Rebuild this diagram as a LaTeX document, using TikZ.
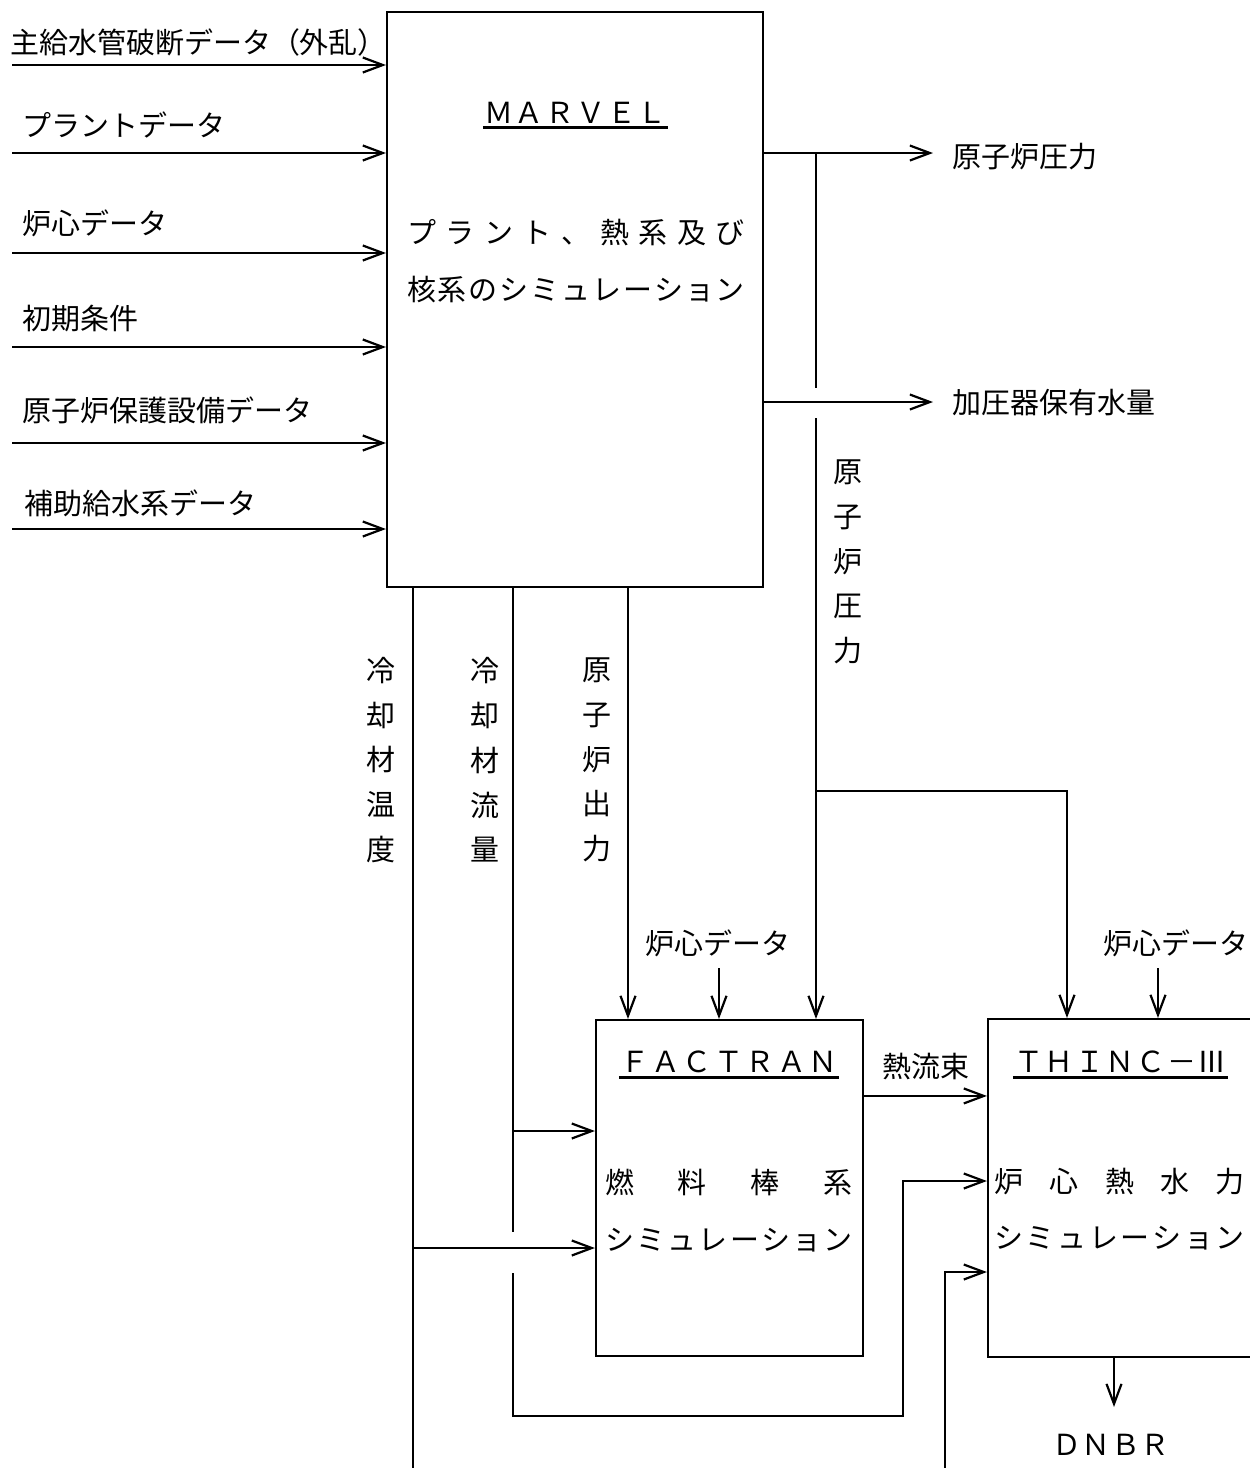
\documentclass[tikz,border=0pt]{standalone}
\usepackage{fontspec}
\setmainfont{Noto Sans CJK JP}
\usetikzlibrary{arrows.meta,positioning,calc}

\newcommand{\jpfont}{\fontsize{16.5pt}{25.5pt}\selectfont}
% spread the characters of #2 evenly over a box of width #1
\newcommand{\spaced}[2]{\makebox[#1][s]{\spacedfirst#2\relax}}
\def\spacedfirst#1{#1\spacednext}
\def\spacednext#1{\ifx\relax#1\else\hfill#1\expandafter\spacednext\fi}

\tikzset{
  box/.style={draw, inner sep=0pt},
  lbl/.style={inner sep=0pt, font=\jpfont},
  flow/.style={-{Straight Barb[length=0.4cm, width=0.3cm]}},
  uline/.style={line width=1.7pt},
}

\begin{document}
\begin{tikzpicture}[x=0.02cm, y=-0.02cm, line width=1.25pt]
\useasboundingbox (0,0) rectangle (1250,1468);

% blocks
\node[box, minimum width=7.52cm, minimum height=11.5cm] (marvel) at (575,299.5) {};
\node[box, minimum width=5.34cm, minimum height=6.72cm] (factran) at (729.5,1188) {};
\node[box, minimum width=5.3cm, minimum height=6.76cm] (thinc) at (1120.5,1188) {};

% MARVEL
\node[lbl] (marveltitle) at (575.5,113) {\spaced{3.66cm}{ＭＡＲＶＥＬ}};
\draw[uline] ($(marveltitle.south west)+(0,3)$) -- ($(marveltitle.south east)+(0,3)$);
\node[lbl] (marvelA) at (576,232) {\spaced{6.76cm}{プラント、熱系及び}};
\node[lbl] (marvelB) at (576,290) {\spaced{6.76cm}{核系のシミュレーション}};

% FACTRAN
\node[lbl] (factrantitle) at (729,1062) {\spaced{4.36cm}{ＦＡＣＴＲＡＮ}};
\draw[uline] ($(factrantitle.south west)+(0,3)$) -- ($(factrantitle.south east)+(0,3)$);
\node[lbl] (factranA) at (729,1182) {\spaced{4.96cm}{燃料棒系}};
\node[lbl] (factranB) at (729,1240) {\spaced{4.96cm}{シミュレーション}};

% THINC
\node[lbl] (thinctitle) at (1120.5,1062) {\spaced{4.26cm}{ＴＨＩＮＣ－Ⅲ}};
\draw[uline] ($(thinctitle.south west)+(0,3)$) -- ($(thinctitle.south east)+(0,3)$);
\node[lbl] (thincA) at (1119.5,1182) {\spaced{5.02cm}{炉心熱水力}};
\node[lbl] (thincB) at (1119.5,1238) {\spaced{5.02cm}{シミュレーション}};

% inputs to MARVEL
\foreach \i/\ly/\ay/\lx/\txt in {1/42/65/9/主給水管破断データ（外乱）, 2/125/153/21/プラントデータ,
    3/223/253/21/炉心データ, 4/319/347/21/初期条件, 5/410/443/21/原子炉保護設備データ,
    6/503/529/23/補助給水系データ}{
  \node[lbl, anchor=west] (in\i) at (\lx,\ly) {\txt};
  \coordinate (src\i) at (12,\ay);
  \draw[flow] (src\i) -- (src\i -| marvel.west);
}

% outputs of MARVEL
\node[lbl, anchor=west] (press) at (951,157) {原子炉圧力};
\node[lbl, anchor=west] (level) at (951,403) {加圧器保有水量};
\coordinate (pressend) at (933,153);
\coordinate (levelend) at (933,402);
\draw[flow] (pressend -| marvel.east) -- (pressend);
\draw[flow] (levelend -| marvel.east) -- (levelend);

% reactor pressure to FACTRAN and THINC
\coordinate (ptop) at (816,153);
\coordinate (pgap) at (816,388);
\coordinate (pmid) at (816,418);
\coordinate (pbranch) at (816,791);
\coordinate (pturn) at (1067,791);
\draw (ptop) -- (pgap);
\draw[flow] (pmid) -- (pmid |- factran.north);
\draw[flow] (pbranch) -- (pturn) -- (pturn |- thinc.north);
\node[lbl, align=center] (presslbl) at (848,562) {原\\子\\炉\\圧\\力};

% coolant temperature
\coordinate (temp) at (413,1248);
\coordinate (tempend) at (413,1468);
\draw (temp |- marvel.south) -- (tempend);
\draw[flow] (temp) -- (temp -| factran.west);
\node[lbl, align=center] (templbl) at (381,760) {冷\\却\\材\\温\\度};

% coolant flow
\coordinate (flowA) at (513,1131);
\coordinate (flowgap) at (513,1232);
\coordinate (flowB) at (513,1273);
\coordinate (flowlow) at (513,1416);
\coordinate (flowturn) at (903,1416);
\coordinate (flowup) at (903,1181);
\draw (flowA |- marvel.south) -- (flowgap);
\draw[flow] (flowA) -- (flowA -| factran.west);
\draw[flow] (flowB) -- (flowlow) -- (flowturn) -- (flowup) -- (flowup -| thinc.west);
\node[lbl, align=center] (flowlbl) at (485,760) {冷\\却\\材\\流\\量};

% reactor power
\coordinate (power) at (628,0);
\draw[flow] (power |- marvel.south) -- (power |- factran.north);
\node[lbl, align=center] (powerlbl) at (597,760) {原\\子\\炉\\出\\力};

% core data
\node[lbl] (core1) at (718,943) {炉心データ};
\node[lbl] (core2) at (1176,943) {炉心データ};
\coordinate (core1in) at (719,968);
\coordinate (core2in) at (1158,968);
\draw[flow] (core1in) -- (core1in |- factran.north);
\draw[flow] (core2in) -- (core2in |- thinc.north);

% heat flux
\coordinate (heatA) at ($(factran.north east)+(0,77)$);
\draw[flow] (heatA) -- (heatA -| thinc.west) node[lbl, midway, above=0.3cm] (heat) {熱流束};

% feed from below to THINC
\coordinate (feedlow) at (945,1468);
\coordinate (feedup) at (945,1272);
\draw[flow] (feedlow) -- (feedup) -- (feedup -| thinc.west);

% DNBR
\coordinate (dnbrend) at (1114,1407);
\draw[flow] (dnbrend |- thinc.south) -- (dnbrend);
\node[lbl] (dnbr) at (1111,1445) {\spaced{2.36cm}{ＤＮＢＲ}};
\end{tikzpicture}
\end{document}
